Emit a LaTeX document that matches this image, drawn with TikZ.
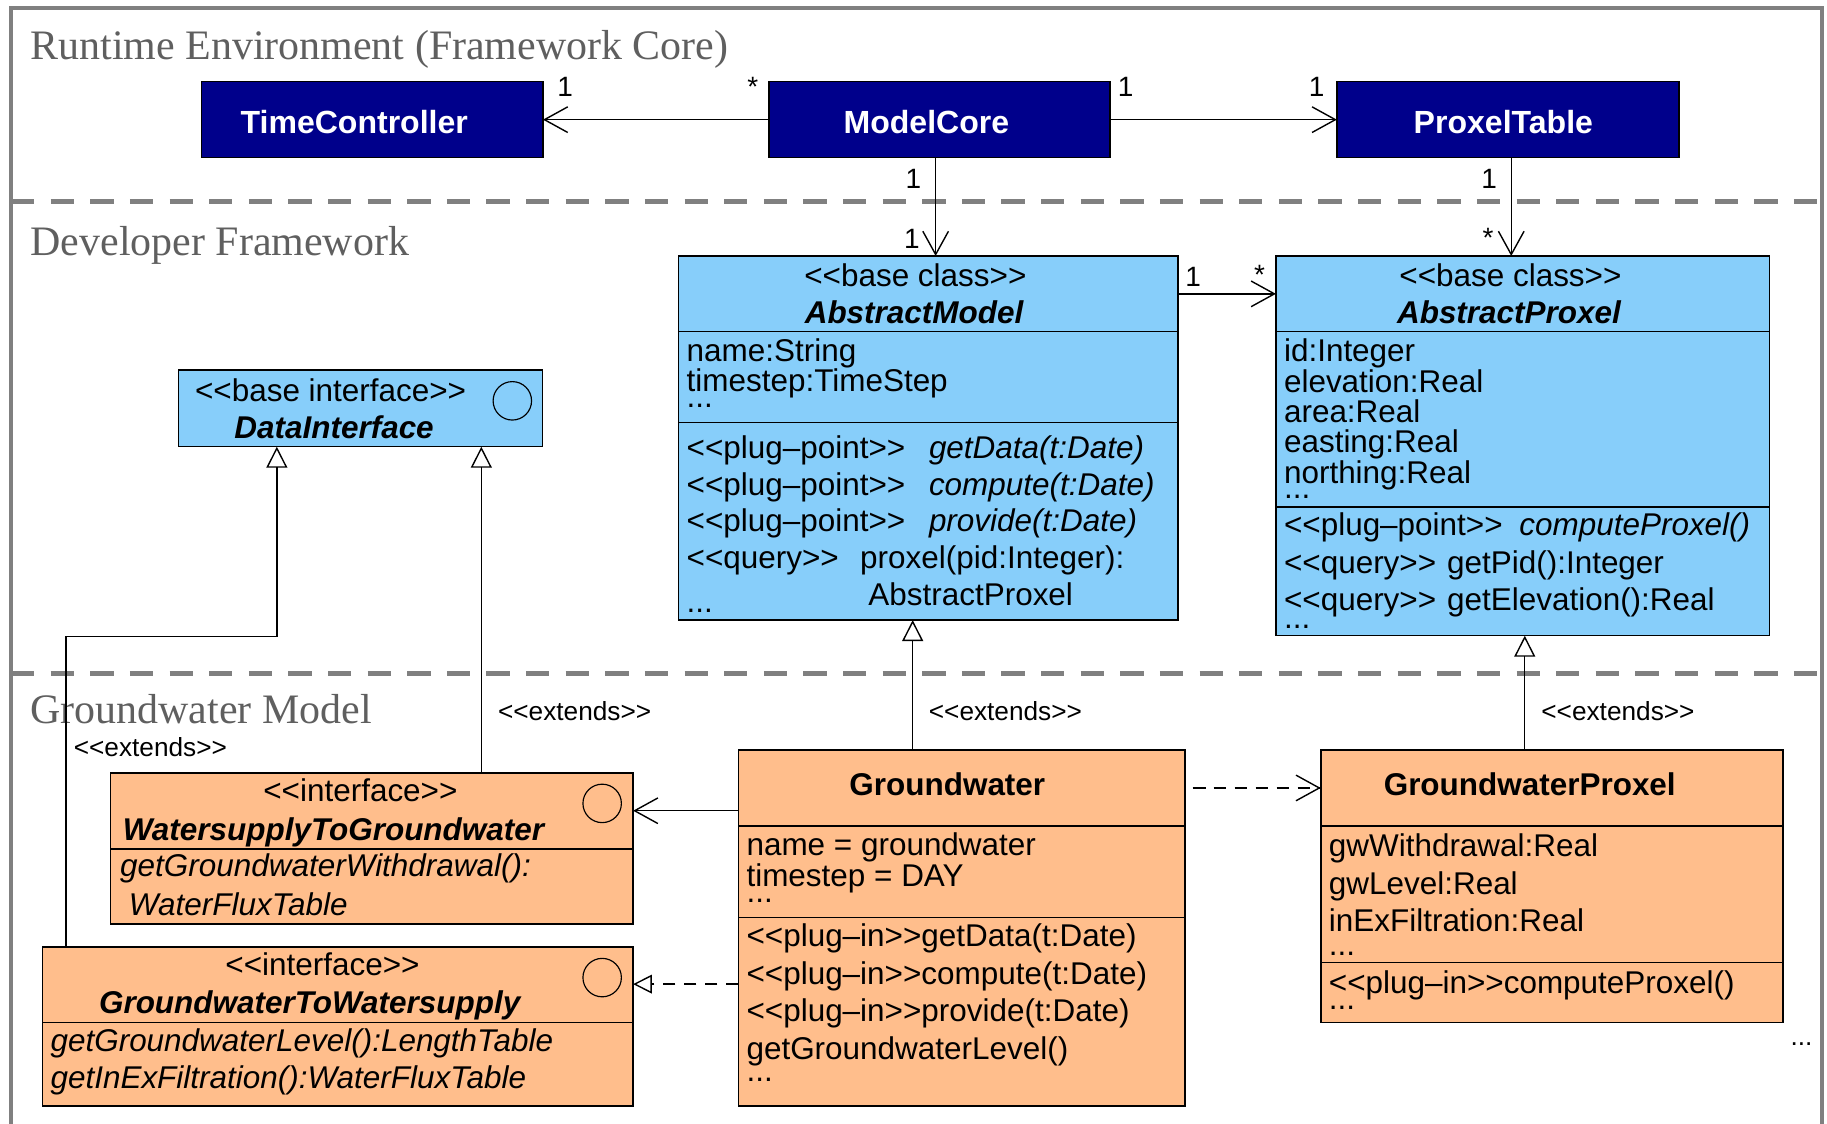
\documentclass[tikz,border=0pt]{standalone}
\usepackage{fontspec}
\usetikzlibrary{arrows.meta,positioning}
\newfontfamily\umlfont{Liberation Sans}
\newfontfamily\layerfont{Liberation Serif}
\definecolor{coreblue}{RGB}{0,0,139}
\definecolor{baseblue}{RGB}{135,206,250}
\definecolor{modelorange}{RGB}{255,190,140}
\definecolor{framegray}{RGB}{128,128,128}
\definecolor{layergray}{RGB}{95,95,95}
\newcommand{\fs}[2]{\umlfont\fontsize{#1}{#2}\selectfont}
\newcommand{\stereo}[1]{<<#1>>}
% box text: height, width, first baseline, line skip, lines
\newcommand{\hdr}[5]{\parbox[c][#1pt][t]{#2pt}{\baselineskip=#4pt\lineskiplimit=-30pt\rule{0pt}{#3pt}#5}}
\newcommand{\compart}[5]{\parbox[c][#1pt][t]{#2pt}{\leftskip=7pt\baselineskip=#4pt\lineskiplimit=-30pt\rule{0pt}{#3pt}#5}}
\tikzset{
  cls/.style={draw, line width=1.3pt, inner sep=0pt, outer sep=0pt, anchor=north west, font=\fs{27}{31.5}},
  core/.style={cls, fill=coreblue, text=white, font=\fs{27.5}{30}\bfseries},
  base/.style={cls, fill=baseblue},
  model/.style={cls, fill=modelorange},
  iface/.style={draw, circle, line width=1pt, minimum size=33pt, inner sep=0pt},
  assoc/.style={-{Straight Barb[length=20pt,width=22pt]}, line width=1.2pt},
  ext/.style={-{Triangle[open,length=18pt,width=18pt]}, line width=1.2pt},
  dep/.style={assoc, dash pattern=on 11pt off 7pt},
  real/.style={-{Triangle[open,length=16pt,width=16pt]}, line width=1.2pt, dash pattern=on 11pt off 7pt},
  mult/.style={font=\fs{24}{24}, inner sep=0pt, anchor=base},
  stereolbl/.style={font=\fs{22.5}{22.5}, inner sep=0pt, anchor=base west},
  layer/.style={font=\layerfont\fontsize{36}{36}\selectfont, text=layergray, inner sep=0pt, anchor=base west},
  layersep/.style={draw=framegray, line width=4.5pt, dash pattern=on 20pt off 14pt},
}

\begin{document}
\begin{tikzpicture}[x=1pt, y=-1pt, node distance=0pt]
\useasboundingbox (0,0) rectangle (1568,964);
\draw[framegray, line width=3.5pt] (9.5,966) -- (9.5,6.5) -- (1564,6.5) -- (1564,966);
\draw[layersep] (9.5,173.1) -- (1564,173.1);
\draw[layersep] (9.5,578) -- (1564,578);
\node[layer] (rt) at (26,51) {Runtime Environment (Framework Core)};
\node[layer] (df) at (26,219) {Developer Framework};
\node[layer] (gm) at (26,621) {Groundwater Model};

\node[core] (tc) at (172.8,70.1) {\hdr{65.2}{293.2}{44.3}{30}{\hspace*{33.7pt}TimeController}};
\node[core] (mc) at (660,70.1) {\hdr{65.2}{292.8}{44.3}{30}{\hspace*{64pt}ModelCore}};
\node[core] (pt) at (1147.3,70.1) {\hdr{65.2}{293.6}{44.3}{30}{\hspace*{66pt}ProxelTable}};

\node[base] (am) at (582.3,219.7) {\hdr{65}{428.7}{26.3}{31.5}{\hspace*{108pt}\stereo{base class}\\\hspace*{108.4pt}\textbf{\textit{AbstractModel}}}};
\node[base, below=of am] (am-a) {\compart{78.1}{428.7}{25.7}{25.8}{name:String\\timestep:TimeStep\\[-12.5pt]...}};
\node[base, below=of am-a] (am-o) {\compart{169.4}{428.7}{30.6}{31.5}{\makebox[208pt][l]{\stereo{plug–point}}\textit{getData(t:Date)}\\\makebox[208pt][l]{\stereo{plug–point}}\textit{compute(t:Date)}\\\makebox[208pt][l]{\stereo{plug–point}}\textit{provide(t:Date)}\\\makebox[149pt][l]{\stereo{query}}proxel(pid:Integer):\\\makebox[156pt][l]{\raisebox{-6pt}{...}}AbstractProxel}};

\node[base] (ap) at (1095,219.7) {\hdr{65}{423.5}{26.3}{31.5}{\hspace*{106pt}\stereo{base class}\\\hspace*{104pt}\textbf{\textit{AbstractProxel}}}};
\node[base, below=of ap] (ap-a) {\compart{150.2}{423.5}{25.7}{26.1}{id:Integer\\elevation:Real\\area:Real\\easting:Real\\northing:Real\\[-13pt]...}};
\node[base, below=of ap-a] (ap-o) {\compart{110.7}{423.5}{25.1}{31.8}{\makebox[202pt][l]{\stereo{plug–point}}\textit{computeProxel()}\\\makebox[140pt][l]{\stereo{query}}getPid():Integer\\\makebox[140pt][l]{\stereo{query}}getElevation():Real\\[-16.4pt]...}};

\node[base] (di) at (153.3,317.6) {\hdr{65.8}{312.3}{27.2}{31.5}{\hspace*{14.1pt}\stereo{base interface}\\\hspace*{47.9pt}\textbf{\textit{DataInterface}}}};
\node[iface] (di-o) at ([shift={(-25.9,26.4)}]di.north east) {};

\node[model] (ws) at (94.7,663.2) {\hdr{65.6}{448.7}{24.9}{32.9}{\hspace*{131.3pt}\stereo{interface}\\\hspace*{10.7pt}\textbf{\textit{WatersupplyToGroundwater}}}};
\node[model, below=of ws] (ws-b) {\compart{64.3}{448.7}{23.7}{32.9}{\itshape\hspace*{1.5pt}getGroundwaterWithdrawal():\\\hspace*{9pt}WaterFluxTable}};
\node[iface] (ws-o) at ([shift={(-26.6,26.3)}]ws.north east) {};

\node[model] (gtw) at (36.4,812.6) {\hdr{64.9}{507}{24.3}{32.9}{\hspace*{157.1pt}\stereo{interface}\\\hspace*{48.6pt}\textbf{\textit{GroundwaterToWatersupply}}}};
\node[model, below=of gtw] (gtw-b) {\compart{71.5}{507}{25.2}{31.5}{\itshape getGroundwaterLevel():LengthTable\\getInExFiltration():WaterFluxTable}};
\node[iface] (gtw-o) at ([shift={(-26.6,26.4)}]gtw.north east) {};

\node[model] (gw) at (633.7,643.8) {\hdr{64.9}{383.3}{38.6}{30}{\hspace*{95.3pt}\textbf{Groundwater}}};
\node[model, below=of gw] (gw-a) {\compart{78.7}{383.3}{25.2}{26.6}{name = groundwater\\timestep = DAY\\[-12.6pt]...}};
\node[model, below=of gw-a] (gw-o) {\compart{161.6}{383.3}{25.2}{32.1}{\stereo{plug–in}getData(t:Date)\\\stereo{plug–in}compute(t:Date)\\\stereo{plug–in}provide(t:Date)\\getGroundwaterLevel()\\[-12.6pt]...}};

\node[model] (gp) at (1133.5,643.8) {\hdr{64.9}{396.5}{38.6}{30}{\hspace*{54.1pt}\textbf{GroundwaterProxel}}};
\node[model, below=of gp] (gp-a) {\compart{117.3}{396.5}{26.1}{32.5}{gwWithdrawal:Real\\gwLevel:Real\\inExFiltration:Real\\[-12.2pt]...}};
\node[model, below=of gp-a] (gp-o) {\compart{51.5}{396.5}{26.6}{32.5}{\stereo{plug–in}computeProxel()\\[-19.1pt]...}};
\node[stereolbl] (more) at (1536.5,897) {...};

\node[mult] (tc-n) at (485,83) {1};
\node[mult] (mc-w) at (646,83) {*};
\node[mult] (mc-e) at (966,83) {1};
\node[mult] (pt-w) at (1130,83) {1};
\node[mult] (mc-s) at (784,162) {1};
\node[mult] (am-n) at (782.6,213) {1};
\node[mult] (pt-s) at (1278,162) {1};
\node[mult] (ap-n) at (1277,212) {*};
\node[mult] (am-e) at (1024,246) {1};
\node[mult] (ap-w) at (1081,244) {*};

\node[stereolbl] (ext-gtw) at (63.2,649.5) {\stereo{extends}};
\node[stereolbl] (ext-ws) at (427.3,618) {\stereo{extends}};
\node[stereolbl] (ext-gw) at (797,618) {\stereo{extends}};
\node[stereolbl] (ext-gp) at (1322.7,618) {\stereo{extends}};

\draw[assoc] (mc) -- (tc);
\draw[assoc] (mc) -- (pt);
\draw[assoc] ([xshift=-3.4pt]mc.south) -- ([xshift=-3.4pt]mc.south |- am.north);
\draw[assoc] ([xshift=2.9pt]pt.south) -- ([xshift=2.9pt]pt.south |- ap.north);
\draw[assoc] (am.east) -- (am.east -| ap.west);
\draw[ext] ([xshift=318.4pt]ws.north west) -- ([xshift=318.4pt]ws.north west |- di.south);
\draw[ext] ([xshift=20.3pt]gtw.north west) -- ++(0,-266.1) -| ([xshift=84.3pt]di.south west);
\draw[ext] ([xshift=149.6pt]gw.north west) -- ([xshift=149.6pt]gw.north west |- am-o.south);
\draw[ext] ([xshift=175.1pt]gp.north west) -- ([xshift=175.1pt]gp.north west |- ap-o.south);
\draw[assoc] ([yshift=-52pt]gw.north west) -- ([yshift=-52pt]gw.north west -| ws.east);
\draw[real] ([yshift=-57.2pt]gw-o.north west) -- ([yshift=-57.2pt]gw-o.north west -| gtw.east);
\draw[dep] ([xshift=6.6pt]gw.east) -- (gp.west);
\end{tikzpicture}
\end{document}
